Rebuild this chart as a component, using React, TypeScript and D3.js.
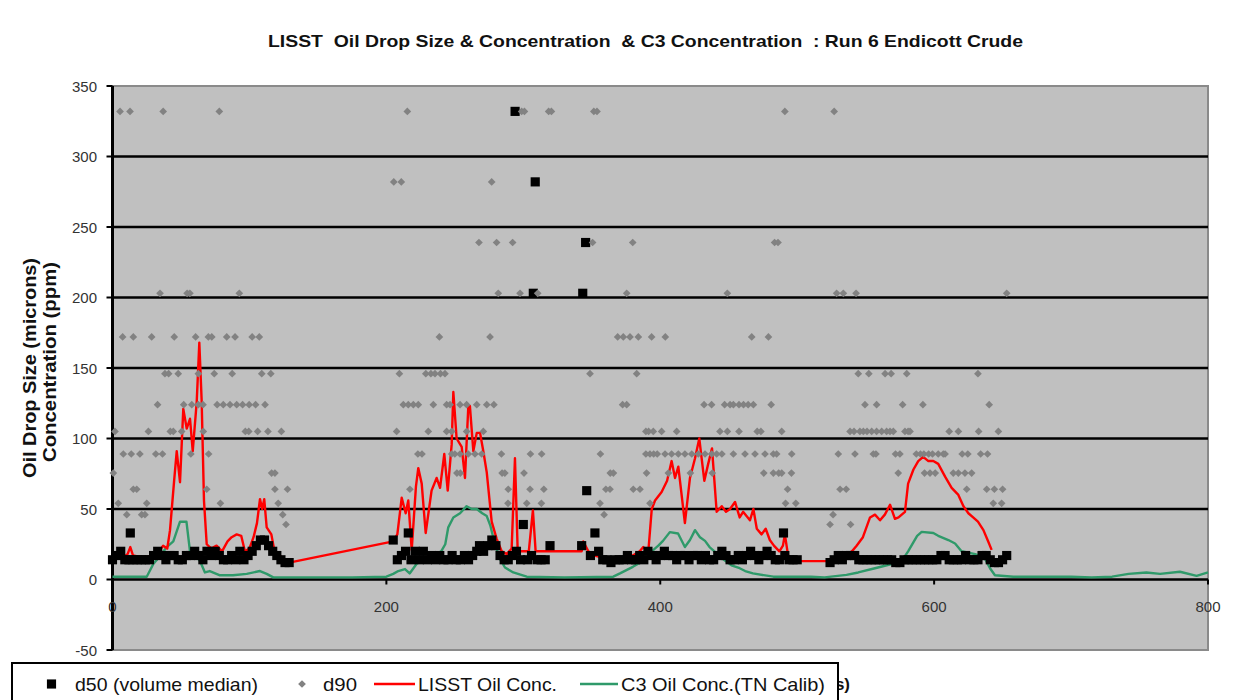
import React from 'react';
import * as d3 from 'd3';

const chartTitle = 'LISST  Oil Drop Size & Concentration  & C3 Concentration  : Run 6 Endicott Crude';
const yTitle1 = 'Oil Drop Size (microns)';
const yTitle2 = 'Concentration (ppm)';
const xTitleVisible = 's)';
const yTicks = [-50, 0, 50, 100, 150, 200, 250, 300, 350];
const gridValues = [0, 50, 100, 150, 200, 250, 300];
const xTicks = [0, 200, 400, 600, 800];
const legendLabels = ['d50 (volume median)', 'd90', 'LISST Oil Conc.', 'C3 Oil Conc.(TN  Calib)'];

// d50 (volume median), [time, microns]
const d50Seg1: [number, number][] = [
  [0, 14], [3, 17], [6, 20], [9, 14], [12, 14], [13, 33], [15, 14], [18, 14], [21, 14], [24, 14], [27, 14],
  [30, 17], [33, 20], [36, 17], [39, 14], [42, 17], [45, 17], [48, 14], [51, 14], [54, 17], [57, 17],
  [60, 20], [63, 17], [66, 14], [69, 20], [72, 17], [75, 20], [78, 17], [81, 14], [84, 14], [87, 17],
  [90, 14], [93, 20], [96, 14], [99, 17], [102, 20], [105, 24], [108, 28], [111, 28], [114, 24],
  [117, 20], [120, 17], [123, 14], [126, 12], [129, 12],
];
const d50Seg2: [number, number][] = [
  [205, 28], [208, 14], [211, 17], [214, 20], [216, 33], [218, 14], [221, 20], [224, 14], [227, 20],
  [230, 14], [233, 17], [236, 14], [239, 17], [242, 14], [245, 14], [248, 17], [251, 14], [254, 14],
  [257, 17], [260, 14], [263, 17], [266, 20], [268, 24], [271, 20], [274, 24], [277, 28], [280, 24],
  [283, 17], [286, 14], [289, 14], [292, 17], [295, 20], [298, 14], [300, 39], [303, 14], [306, 17],
  [310, 14], [313, 14], [316, 14], [319.5, 24],
];
const d50Outliers: [number, number][] = [
  [294, 332], [307.3, 203], [308.7, 282], [342.6, 24], [343.4, 203], [345.5, 239], [346.3, 63], [352.3, 33],
];
const d50Seg3: [number, number][] = [
  [349, 17], [355, 20], [358, 14], [361, 14], [364, 12], [367, 14], [370, 14], [373, 14], [376, 17],
  [379, 14], [382, 14], [385, 17], [388, 14], [391, 20], [394, 17], [397, 14], [400, 17], [403, 20],
  [406, 17], [409, 17], [412, 14], [415, 17], [418, 17], [421, 14], [424, 17], [427, 17], [430, 14],
  [433, 17], [436, 14], [439, 14], [442, 17], [445, 20], [448, 17], [451, 14], [454, 14], [457, 17],
  [460, 14], [463, 17], [466, 20], [469, 17], [472, 14], [475, 17], [478, 20], [481, 17], [484, 14],
  [487, 14], [490, 33], [491, 17], [494, 14], [497, 14], [500, 14],
];
const d50Seg4: [number, number][] = [
  [524, 12], [527, 14], [530, 17], [533, 14], [536, 17], [539, 17], [542, 17], [545, 14], [548, 14],
  [551, 14], [554, 14], [557, 14], [560, 14], [563, 14], [566, 14], [569, 14], [572, 12], [575, 12],
  [578, 14], [581, 14], [584, 14], [587, 14], [590, 14], [593, 14], [596, 14], [599, 14], [602, 14],
  [605, 17], [608, 17], [611, 14], [614, 14], [617, 14], [620, 14], [623, 17], [626, 14], [629, 14],
  [632, 14], [635, 17], [638, 17], [641, 14], [644, 12], [647, 12], [650, 14], [653, 17],
];

// d90: size classes and the times at which each class was recorded
const d90Levels = [332, 282, 239, 203, 172, 146, 124, 105, 89, 75.5, 64, 54, 46, 39];
const d90Times: number[][] = [
  [5.5, 12.8, 37, 78, 215.3, 298.8, 300.8, 318.5, 320.5, 351.5, 353.8, 491, 527],
  [205.4, 210.9, 276.9],
  [267.6, 280.5, 292.2, 350.6, 379.9, 483.5, 486],
  [34.7, 54.5, 56.5, 92.6, 281.7, 297.6, 310.5, 375.5, 449, 528.8, 533.7, 543, 653],
  [7.4, 15.2, 28.6, 45.1, 60.7, 70, 72.5, 83.4, 89.5, 102, 107.2, 238.7, 275.7, 368.9, 373, 377.9, 384, 393.7, 403.7, 466.8, 479],
  [38.3, 41, 48, 62.7, 74.3, 87.4, 109, 115.6, 209.5, 228.8, 232.5, 235.5, 239.5, 242.8, 348.7, 382.8, 544.6, 552.3, 564.2, 568.6, 580, 632],
  [32.9, 52, 57.9, 62.7, 66.1, 76.4, 80.9, 85.8, 90.7, 95, 99.8, 104.5, 111.4, 212.4, 216, 219.7, 223.3, 234.3, 244, 246.5, 253.8, 258.6, 266, 273.3, 278.5, 372.5, 375.5, 432, 437.5, 447, 451, 453.4, 457.5, 460.8, 464.2, 468, 481, 549.5, 558, 577, 591.8, 640.2],
  [1.8, 26.2, 42.2, 44.4, 50.5, 66.3, 97, 99.5, 106, 113.5, 123.3, 207.5, 230.6, 244, 247.7, 258.6, 270.8, 389.5, 391.5, 394.9, 401, 412, 443.6, 449, 457.5, 470.8, 473.5, 488.7, 538.6, 541.5, 545.8, 548.3, 551, 554.4, 558, 561.7, 565.3, 567.8, 570.2, 578.7, 581, 582.4, 611, 617.7, 632.5, 646.9],
  [7.9, 13.7, 20, 31.6, 36.5, 57.2, 70.2, 223, 226, 247.7, 250, 253.8, 259.8, 264.7, 269.6, 284, 305.2, 313.4, 356.3, 389.5, 392.5, 395.2, 397.8, 403.5, 408.3, 413.2, 418, 423, 427.8, 432.7, 437.6, 441.2, 445, 453.4, 461.9, 469.2, 476.5, 482.6, 485, 496, 530, 542.2, 555.6, 557.5, 571.8, 575, 587, 590, 592.5, 596, 598.8, 603, 606.7, 608, 620.5, 624.6, 634, 639],
  [0.6, 116.2, 118.6, 251.5, 254, 284.5, 286.5, 300.5, 363.5, 365.8, 390, 405.9, 422, 438, 475.6, 482.6, 486.5, 488.7, 495.8, 573.8, 593, 597, 600.8, 614, 617.7, 622.5, 627.4],
  [15.2, 17.7, 68.8, 118.6, 127.8, 217.2, 289, 304.9, 315, 360.3, 363.3, 380.3, 385.2, 493, 531.3, 535.8, 623.8, 638.4, 644, 650],
  [4.2, 25, 78.8, 121, 288.8, 302.5, 313.2, 356, 392.5, 491.5, 499, 643.2, 649.3],
  [10.4, 21.3, 23.7, 124.3, 359, 526.2],
  [126.7, 524, 539],
];

// LISST oil concentration, [time, ppm]
const lisstConc: [number, number][] = [
  [0, 15], [4, 17], [8, 16], [11, 18], [13, 23], [15, 17], [20, 16], [25, 16], [30, 17], [34, 20], [37, 24],
  [40, 22], [42, 35], [43.2, 49], [45, 70], [46.9, 91], [49.3, 69], [51.7, 121], [54.2, 107], [56.6, 114],
  [58.6, 91], [61.5, 126], [63.4, 168], [65.1, 127], [66.8, 56], [68.8, 25], [72, 22], [76, 24], [80, 20],
  [84, 27], [87, 30], [90.7, 32], [94, 31], [96.7, 20], [100, 22], [103, 30], [105.5, 40], [107.7, 57],
  [109.3, 50], [110.8, 57], [112.6, 37], [116, 32], [118.7, 18], [122, 17], [126, 14], [129, 12],
  [205, 27], [208, 32], [211.2, 58], [214.1, 47], [216, 56], [218.5, 21], [221.6, 66], [223.3, 79],
  [225.8, 68], [228.7, 33], [233, 63], [236.7, 72], [239.2, 65], [242.3, 89], [244.8, 63], [247.7, 96],
  [248.9, 133], [251.3, 100], [255, 94], [257.4, 72], [259.8, 122], [261, 123], [263.5, 91], [266, 104],
  [268.4, 104], [270.8, 91], [273.3, 76], [276.9, 41], [280.5, 29], [284.2, 20], [288, 18], [291.5, 22],
  [293.9, 86], [295.9, 20], [300, 20], [304, 20], [307, 49], [309, 20], [325, 20], [342.6, 20], [343.8, 27],
  [347.5, 20], [352, 17], [360, 15], [370, 15], [380, 17], [385, 20], [387.6, 23], [391.3, 20], [393.8, 50],
  [396.2, 56], [401, 62], [405, 70], [408.3, 84], [410.8, 72], [413.2, 80], [418, 40], [421.7, 72],
  [425.4, 86], [428.5, 100], [432.2, 70], [435, 82], [437.8, 93], [441.2, 48], [444.9, 52], [448, 48],
  [451, 50], [454.6, 55], [458, 44], [460.5, 48], [465.5, 42], [468, 50], [470.5, 36], [474, 32], [477, 36],
  [480, 28], [483, 24], [487, 20], [489.6, 24], [491, 32], [493.5, 16], [497, 14], [500, 13], [521.5, 13],
  [524, 14], [530, 15], [536, 17], [540, 20], [543.4, 24], [548, 30], [553.2, 44], [556.8, 46], [560.5, 42],
  [564, 46], [567.8, 53], [571.4, 43], [574, 44], [578.7, 48], [581, 68], [584.9, 78], [588.4, 84],
  [592, 87], [595.8, 84], [599.4, 84], [603, 82], [608, 73], [612.8, 65], [617.7, 60], [621.4, 52],
  [625, 47], [628.5, 44], [632, 41], [636, 35], [639.5, 27], [642, 21],
];

// C3 oil concentration (TN calibration), [time, ppm]
const c3Conc: [number, number][] = [
  [0, 2], [10, 2], [20, 2], [25, 2], [29.8, 11], [35, 17], [39.6, 23], [44.4, 27], [49.3, 41], [54, 41],
  [56.6, 20], [61.5, 16], [64, 13], [67.5, 5], [71, 6], [78.5, 3], [88, 3], [98, 4], [107.7, 6],
  [112.6, 4], [117.4, 1.5], [130, 1.5], [150, 1.5], [175, 1.5], [200, 2], [205, 4], [208.7, 6],
  [213.6, 7.4], [217, 4.3], [222, 11], [228, 14.5], [235, 17], [240, 20], [243, 25], [245.2, 37],
  [248.9, 44], [253.8, 47], [258.6, 52], [262.3, 50], [266, 50], [270, 47], [273.3, 45], [276, 38],
  [278, 30], [281, 20], [283, 14.5], [286.6, 8.5], [292.7, 5], [302.5, 2], [330, 1.5], [365.7, 2],
  [370.6, 4.3], [380, 9], [390, 14.5], [395, 21], [398.6, 24], [402, 27.4], [407, 33.6], [413, 32.6],
  [418, 23], [421.7, 28], [425.4, 35], [429, 30], [432.7, 27.4], [436, 23], [440, 19.6], [445, 15],
  [452, 10], [458, 8], [462, 6], [467.7, 4.3], [482.6, 2], [510, 2], [520, 1.5], [536, 3.3], [544.6, 5],
  [556.8, 8], [569, 11], [576.3, 13], [581, 20], [587.6, 31], [590.9, 33.8], [599.4, 33], [603, 31],
  [610.4, 28], [615.3, 25.5], [620, 20], [630, 18], [637, 15], [640.8, 8], [644.4, 3], [657.8, 2],
  [680, 2], [700, 2], [715, 1.5], [730, 2], [742, 4], [755, 5], [765, 4], [779.5, 5.5], [791.7, 2.6],
  [800, 5],
];

export default function App() {
  const W = 1251;
  const H = 700;
  const x = d3.scaleLinear().domain([0, 800]).range([112.5, 1208]);
  const y = d3.scaleLinear().domain([-50, 350]).range([650, 86]);
  const line = d3.line<[number, number]>().x((d) => x(d[0])).y((d) => y(d[1]));
  const squarePath = d3.symbol(d3.symbolSquare, 84)() as string;
  const diamondPath = d3.symbol(d3.symbolDiamond2, 38)() as string;
  const d50All = [...d50Seg1, ...d50Seg2, ...d50Outliers, ...d50Seg3, ...d50Seg4];
  const d90Points: [number, number][] = [];
  d90Levels.forEach((lv, i) => d90Times[i].forEach((t) => d90Points.push([t, lv])));
  const font = "'Liberation Sans', Arial, Helvetica, sans-serif";
  const x0 = x(0);
  const x1 = x(800);

  return (
    <svg width={W} height={H} style={{ position: 'absolute', left: 0, top: 0 }} fontFamily={font}>
      <defs>
        <clipPath id="xTitleClip">
          <rect x={839} y={660} width={60} height={40} />
        </clipPath>
      </defs>
      <rect x={0} y={0} width={W} height={H} fill="#ffffff" />
      <text x={645.5} y={47} textAnchor="middle" fontWeight="bold" fontSize={17} textLength={755} lengthAdjust="spacingAndGlyphs" fill="#111" style={{ whiteSpace: 'pre' }}>
        {chartTitle}
      </text>

      {/* plot area */}
      <rect x={x0} y={y(350)} width={x1 - x0} height={y(-50) - y(350)} fill="#c0c0c0" stroke="#8a8a8a" strokeWidth={2} />
      {gridValues.map((v) => (
        <line key={'g' + v} x1={x0} x2={x1} y1={y(v)} y2={y(v)} stroke="#000" strokeWidth={2.6} />
      ))}

      {/* y axis */}
      <line x1={x0} x2={x0} y1={y(350)} y2={y(-50)} stroke="#000" strokeWidth={3} />
      {yTicks.map((v) => (
        <g key={'yt' + v}>
          <line x1={x0 - 6} x2={x0} y1={y(v)} y2={y(v)} stroke="#000" strokeWidth={2} />
          <text x={97} y={y(v) + 5.5} textAnchor="end" fontSize={15} fill="#333">{v}</text>
        </g>
      ))}

      {/* x ticks on zero line */}
      {xTicks.map((v) => (
        <g key={'xt' + v}>
          <line x1={x(v)} x2={x(v)} y1={y(0)} y2={y(0) + 5} stroke="#000" strokeWidth={2} />
          <text x={x(v)} y={y(0) + 32} textAnchor="middle" fontSize={15} fill="#333">{v}</text>
        </g>
      ))}

      {/* series */}
      <path d={line(c3Conc) as string} fill="none" stroke="#2f9a6a" strokeWidth={2.4} strokeLinejoin="round" />
      <path d={line(lisstConc) as string} fill="none" stroke="#ff0000" strokeWidth={2.4} strokeLinejoin="round" />
      {d50All.map((d, i) => (
        <path key={'s' + i} d={squarePath} transform={`translate(${x(d[0])},${y(d[1])})`} fill="#000" />
      ))}
      {d90Points.map((d, i) => (
        <path key={'d' + i} d={diamondPath} transform={`translate(${x(d[0])},${y(d[1])})`} fill="#828282" />
      ))}

      {/* y axis title */}
      <text transform="translate(36,368) rotate(-90)" textAnchor="middle" fontWeight="bold" fontSize={18} textLength={220} lengthAdjust="spacingAndGlyphs" fill="#111">
        {yTitle1}
      </text>
      <text transform="translate(56,362) rotate(-90)" textAnchor="middle" fontWeight="bold" fontSize={18} textLength={200} lengthAdjust="spacingAndGlyphs" fill="#111">
        {yTitle2}
      </text>

      {/* x axis title: only its last characters show beside the legend, as in the source */}
      <g clipPath="url(#xTitleClip)">
        <text x={850} y={690} textAnchor="end" fontWeight="bold" fontSize={17} fill="#111">{xTitleVisible}</text>
      </g>

      {/* legend */}
      <rect x={12} y={663} width={826} height={60} fill="#ffffff" stroke="#000" strokeWidth={2} />
      <path d={squarePath} transform="translate(51.5,684)" fill="#000" />
      <text x={75} y={691} fontSize={18.5} textLength={183} lengthAdjust="spacingAndGlyphs" fill="#111">{legendLabels[0]}</text>
      <path d={diamondPath} transform="translate(302,684)" fill="#828282" />
      <text x={323} y={691} fontSize={18.5} textLength={34} lengthAdjust="spacingAndGlyphs" fill="#111">{legendLabels[1]}</text>
      <line x1={374} x2={415} y1={684} y2={684} stroke="#ff0000" strokeWidth={2.4} />
      <text x={418} y={691} fontSize={18.5} textLength={139} lengthAdjust="spacingAndGlyphs" fill="#111">{legendLabels[2]}</text>
      <line x1={580} x2={618} y1={684} y2={684} stroke="#2f9a6a" strokeWidth={2.4} />
      <text x={621} y={691} fontSize={18.5} textLength={204} lengthAdjust="spacingAndGlyphs" fill="#111">{legendLabels[3]}</text>
    </svg>
  );
}
